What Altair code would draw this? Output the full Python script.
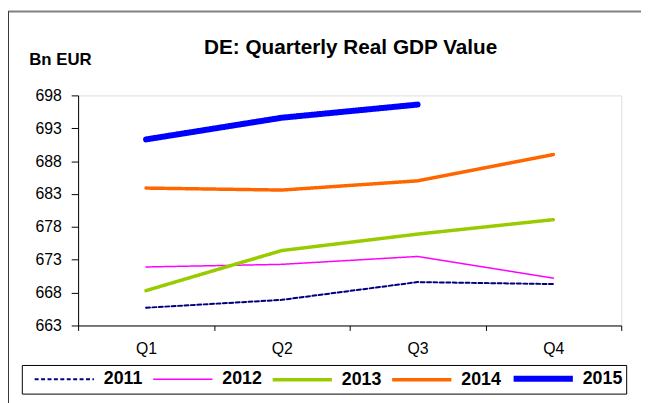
import altair as alt
import pandas as pd

quarters = ["Q1", "Q2", "Q3", "Q4"]
years = ["2011", "2012", "2013", "2014", "2015"]
v2011 = [665.7, 666.9, 669.6, 669.3]
v2012 = [671.9, 672.3, 673.5, 670.2]
v2013 = [668.3, 674.4, 676.9, 679.1]
v2014 = [683.9, 683.6, 685.0, 689.0]
v2015 = [691.3, 694.6, 696.6]
y_ticks = [663, 668, 673, 678, 683, 688, 693, 698]

series = {"2011": v2011, "2012": v2012, "2013": v2013, "2014": v2014, "2015": v2015}
rows = []
for yr in years:
    for q, v in zip(quarters, series[yr]):
        rows.append({"Quarter": q, "Year": yr, "Value": v})
df = pd.DataFrame(rows)

colors = ["#000080", "#FF00FF", "#99CC00", "#FF6600", "#0000FF"]
widths = [2, 1.5, 3.5, 3.5, 6]
dashes = [[4, 2.5], [1, 0], [1, 0], [1, 0], [1, 0]]

FONT = "Liberation Sans"
W, H = 550, 233

lines = alt.Chart(df).mark_line(strokeCap="round", strokeJoin="round").encode(
    x=alt.X("Quarter:N", sort=quarters, title=None,
            scale=alt.Scale(paddingInner=0, paddingOuter=0),
            axis=alt.Axis(tickBand="extent", labelAngle=0, labelFontSize=16,
                          labelFont=FONT, labelColor="black", domainColor="black",
                          tickColor="black", tickSize=5, labelPadding=10, grid=False)),
    y=alt.Y("Value:Q", title="Bn EUR",
            scale=alt.Scale(domain=[663, 698], nice=False, zero=False),
            axis=alt.Axis(values=y_ticks, labelFontSize=16, labelFont=FONT,
                          labelColor="black", domainColor="black", tickColor="black",
                          tickSize=7, labelPadding=10, grid=False,
                          titleAngle=0, titleX=-50, titleY=-31, titleAlign="left",
                          titleBaseline="alphabetic", titleFont=FONT, titleFontSize=17,
                          titleFontWeight="bold", titleColor="black")),
    color=alt.Color("Year:O", sort=years,
                    scale=alt.Scale(type="ordinal", domain=years, range=colors),
                    legend=alt.Legend(title=None, orient="none", legendX=-57, legendY=273,
                                      direction="horizontal", columns=5,
                                      symbolType="M-0.125,0H7.375", symbolSize=256,
                                      labelFont=FONT, labelFontSize=18, labelFontWeight="bold",
                                      labelColor="black", strokeColor="black", padding=3,
                                      columnPadding=0, labelOffset=58)),
    strokeWidth=alt.StrokeWidth("Year:O", sort=years,
                                scale=alt.Scale(type="ordinal", domain=years, range=widths)),
    strokeDash=alt.StrokeDash("Year:O", sort=years,
                              scale=alt.Scale(type="ordinal", domain=years, range=dashes)),
)

frame_top = alt.Chart(pd.DataFrame({"a": [0]})).mark_rule(
    color="#808080", strokeWidth=2, clip=False).encode(
    x=alt.value(-71), x2=alt.value(W + 40), y=alt.value(-85))
frame_left = alt.Chart(pd.DataFrame({"a": [0]})).mark_rule(
    color="#333333", strokeWidth=1, clip=False).encode(
    x=alt.value(-70.5), y=alt.value(-85), y2=alt.value(H + 100))

chart = alt.layer(frame_top, frame_left, lines).properties(
    width=W, height=H,
    padding={"left": 71, "top": 86, "right": 20, "bottom": 76},
    autosize=alt.AutoSizeParams(type="none"),
    title=alt.Title("DE: Quarterly Real GDP Value", font=FONT, fontSize=21,
                    fontWeight="bold", color="black", anchor="middle", dx=1,
                    offset=0, dy=48, frame="group"),
).configure_view(stroke=None).configure(background="white")

chart.save("out.html", embed_options={"renderer": "svg", "actions": False})
